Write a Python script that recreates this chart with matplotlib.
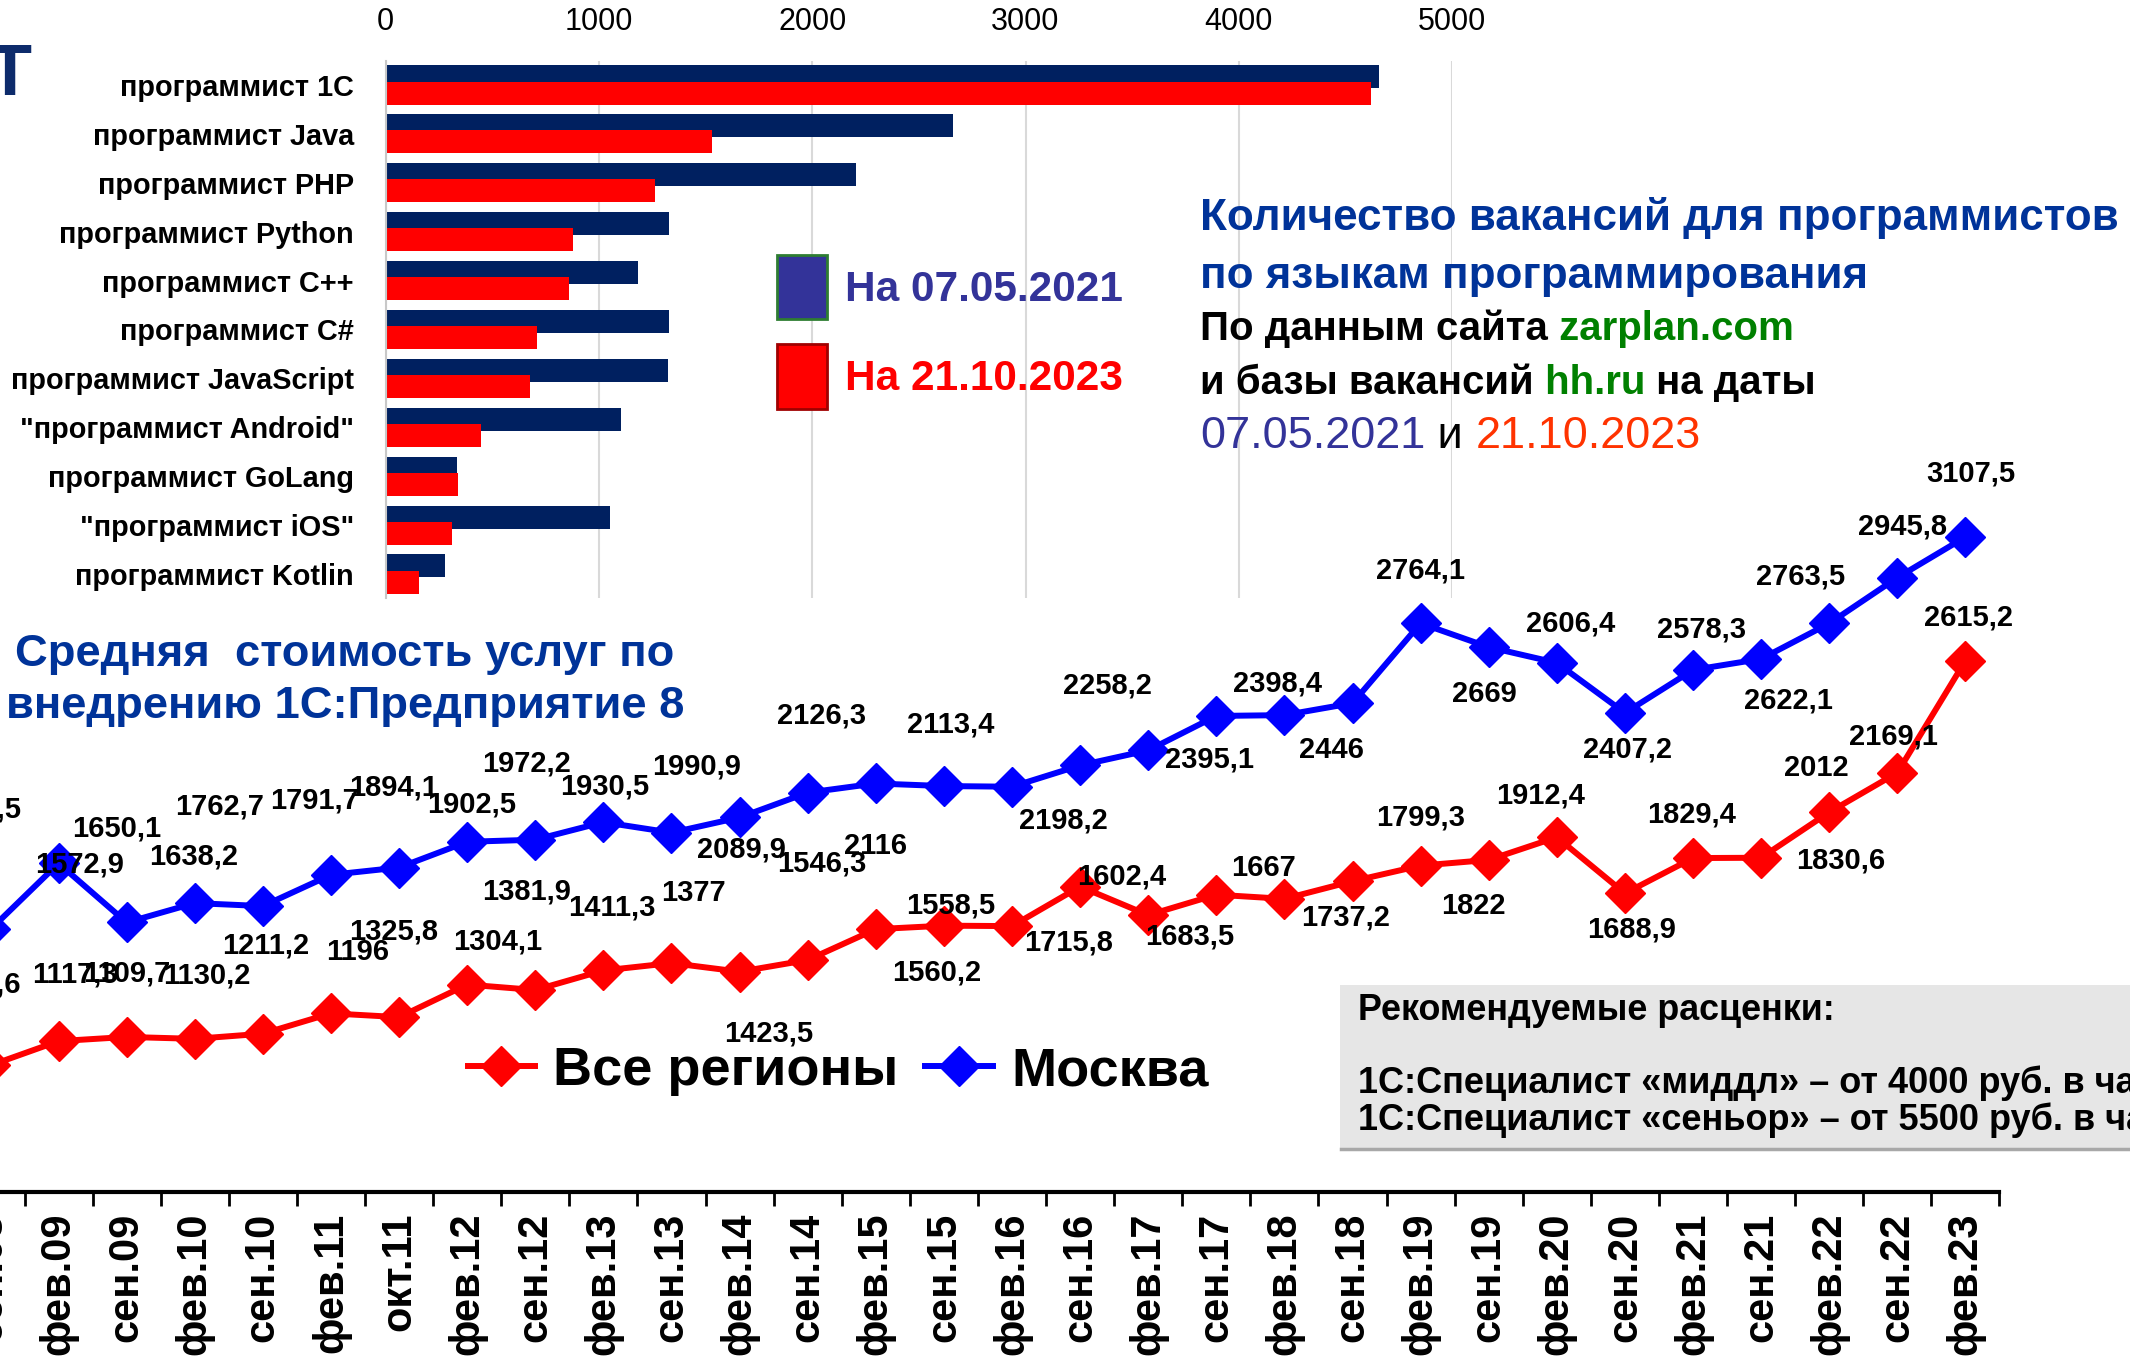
import numpy as np
import matplotlib
matplotlib.use('Agg')
import matplotlib.pyplot as plt
from matplotlib.patches import Rectangle, Patch
from matplotlib.ticker import FixedLocator

# ---------------- данные: вакансии ----------------
languages = ['программист 1C', 'программист Java', 'программист PHP', 'программист Python',
             'программист C++', 'программист C#', 'программист JavaScript',
             '"программист Android"', 'программист GoLang', '"программист iOS"',
             'программист Kotlin']
vac_2021 = [4656, 2660, 2205, 1326, 1181, 1326, 1322, 1103, 333, 1053, 277]
vac_2023 = [4622, 1530, 1262, 877, 861, 709, 678, 448, 340, 310, 155]
vac_labels = ['На 07.05.2021', 'На 21.10.2023']

# ---------------- данные: стоимость услуг ----------------
periods = ['сен.08', 'фев.09', 'сен.09', 'фев.10', 'сен.10', 'фев.11', 'окт.11', 'фев.12',
           'сен.12', 'фев.13', 'сен.13', 'фев.14', 'сен.14', 'фев.15', 'сен.15', 'фев.16',
           'сен.16', 'фев.17', 'сен.17', 'фев.18', 'сен.18', 'фев.19', 'сен.19', 'фев.20',
           'сен.20', 'фев.21', 'сен.21', 'фев.22', 'сен.22', 'фев.23']
moscow = [1545.0, 1808.5, 1572.9, 1650.1, 1638.2, 1762.7, 1791.7, 1894.1, 1902.5, 1972.2,
          1930.5, 1990.9, 2089.9, 2126.3, 2116, 2113.4, 2198.2, 2258.2, 2395.1, 2398.4,
          2446, 2764.1, 2669, 2606.4, 2407.2, 2578.3, 2622.1, 2763.5, 2945.8, 3107.5]
regions = [1004.0, 1100.6, 1117.3, 1109.7, 1130.2, 1211.2, 1196, 1325.8, 1304.1, 1381.9,
           1411.3, 1377, 1423.5, 1546.3, 1560.2, 1558.5, 1715.8, 1602.4, 1683.5, 1667,
           1737.2, 1799.3, 1822, 1912.4, 1688.9, 1829.4, 1830.6, 2012, 2169.1, 2615.2]
line_labels = ['Все регионы', 'Москва']

# смещения подписей значений (в пунктах) - как они разложены на исходнике
blue_off = [(-45, 45), (-59, 39), (-34, 42), (-56, 54), (-50, 36), (-80, 49), (-61, 48),
            (-53, 39), (-46, 25), (-55, 42), (-48, 33), (-31, 37), (-48, -41), (-39, 49),
            (-49, -43), (-44, 45), (-12, -40), (-29, 47), (-5, -31), (-5, 23), (-15, -34),
            (0, 38), (-3, -34), (10, 28), (2, -26), (6, 29), (20, -30), (-21, 34), (4, 37),
            (4, 46)]
red_off = [(-45, 45), (-59, 41), (-37, 45), (-49, 47), (-40, 42), (-47, 49), (-30, 47),
           (-53, 38), (-27, 35), (-55, 57), (-43, 40), (-33, 57), (-28, -53), (-39, 47),
           (-5, -34), (-44, 15), (-8, -40), (-19, 28), (-19, -30), (-15, 22), (-5, -26),
           (0, 35), (-11, -33), (-12, 30), (5, -26), (-1, 31), (57, -2), (-9, 32), (-3, 26),
           (2, 31)]

plt.rcParams['font.family'] = ['Liberation Sans', 'DejaVu Sans']

W, H = 2130, 1361
fig = plt.figure(figsize=(W / 100, H / 100), dpi=100)


def box(l, t, r, b):
    """пиксели картинки (сверху вниз) -> доли фигуры"""
    return [l / W, 1 - b / H, (r - l) / W, (b - t) / H]


def fx(x):
    return x / W


def fy(y):
    return 1 - y / H


# ---------------- верхняя диаграмма ----------------
axb = fig.add_axes(box(385.8, 60.5, 1452, 598.5))
yy = np.arange(len(languages))
axb.barh(yy - 0.165, vac_2021, height=0.47, color='#002060')
axb.barh(yy + 0.165, vac_2023, height=0.47, color='#FF0000')
axb.set_xlim(0, 5000)
axb.set_ylim(len(languages) - 0.5, -0.5)
axb.xaxis.tick_top()
axb.set_xticks(range(0, 5001, 1000))
axb.tick_params(axis='x', length=0, pad=17, labelsize=22)
axb.set_yticks(yy, languages)
axb.tick_params(axis='y', length=0, pad=23, labelsize=20.8)
for lbl in axb.get_yticklabels():
    lbl.set_fontweight('bold')
axb.grid(axis='x', color='#D9D9D9', lw=1.5)
axb.set_axisbelow(True)
for s in ['top', 'right', 'bottom']:
    axb.spines[s].set_visible(False)
axb.spines['left'].set_color('#C8C8C8')
axb.spines['left'].set_linewidth(1.5)

leg_b = axb.legend(handles=[Patch(facecolor='#333399', edgecolor='#2E7D32', lw=2),
                            Patch(facecolor='#FF0000', edgecolor='#A00000', lw=2)],
                   labels=vac_labels, loc='upper left',
                   bbox_to_anchor=(fx(777), fy(255)), bbox_transform=fig.transFigure,
                   frameon=False, prop=dict(weight='bold', size=30.5),
                   handlelength=1.18, handleheight=1.95, handletextpad=0.42,
                   labelspacing=0.6, borderpad=0, borderaxespad=0)
leg_b.get_texts()[0].set_color('#333399')
leg_b.get_texts()[1].set_color('#FF0000')

# кусочек логотипа слева вверху
fig.text(fx(9), fy(95), 'Т', ha='center', va='baseline', size=52, weight='bold',
         color='#0D2B6B')


def line(x, y, pieces, **kw):
    """одна строка из кусков разного цвета"""
    prev = fig.text(x, y, pieces[0][0], color=pieces[0][1], va='baseline', **kw)
    for txt, col in pieces[1:]:
        prev = axb.annotate(txt, xy=(1, 0), xycoords=prev, va='bottom', ha='left',
                            color=col, annotation_clip=False, **kw)


blue_t = '#003399'
line(fx(1200), fy(230), [('Количество вакансий для программистов', blue_t)],
     size=31.7, weight='bold')
line(fx(1200), fy(288), [('по языкам программирования', blue_t)], size=31.7, weight='bold')
line(fx(1200), fy(340), [('По данным сайта', 'black'), (' zarplan.com', '#008000')],
     size=29, weight='bold')
line(fx(1200), fy(394), [('и базы вакансий', 'black'), (' hh.ru', '#008000'),
                         (' на даты', 'black')], size=29, weight='bold')
line(fx(1200), fy(448), [('07.05.2021', '#333399'), (' и ', 'black'),
                         ('21.10.2023', '#FF3300')], size=32.5)

# ---------------- нижняя диаграмма ----------------
axl = fig.add_axes(box(-43.6, 438.4, 1999.5, 1192))
axl.patch.set_visible(False)
xx = np.arange(len(periods))
axl.plot(xx, regions, color='#FF0000', lw=4.3, marker='D', ms=20, mew=1,
         label=line_labels[0])
axl.plot(xx, moscow, color='#0000FF', lw=4.3, marker='D', ms=20, mew=1,
         label=line_labels[1])
axl.set_xlim(-0.5, len(periods) - 0.5)
axl.set_ylim(500, 3500)
axl.set_yticks([])
axl.set_xticks(xx, periods, rotation=90, fontsize=30, fontweight='bold')
axl.xaxis.set_minor_locator(FixedLocator(np.arange(-0.5, len(periods))))
axl.tick_params(axis='x', which='major', length=0, pad=15)
axl.tick_params(axis='x', which='minor', length=10, width=2)
for s in ['top', 'right', 'left']:
    axl.spines[s].set_visible(False)
axl.spines['bottom'].set_linewidth(3)


def fmt(v):
    return f'{v:g}'.replace('.', ',')


for i in range(len(periods)):
    axl.annotate(fmt(moscow[i]), (xx[i], moscow[i]), xytext=blue_off[i],
                 textcoords='offset points', ha='center', va='center',
                 fontsize=21, fontweight='bold', annotation_clip=False)
    axl.annotate(fmt(regions[i]), (xx[i], regions[i]), xytext=red_off[i],
                 textcoords='offset points', ha='center', va='center',
                 fontsize=21, fontweight='bold', annotation_clip=False)

axl.legend(loc='center', bbox_to_anchor=(fx(838), fy(1071)), bbox_transform=fig.transFigure,
           ncol=2, frameon=False, prop=dict(weight='bold', size=39), handlelength=1.25,
           handletextpad=0.33, columnspacing=0.5, borderpad=0)

fig.text(fx(345), fy(666), 'Средняя  стоимость услуг по', ha='center', va='baseline',
         size=32.7, weight='bold', color=blue_t)
fig.text(fx(345), fy(718), 'внедрению 1С:Предприятие 8', ha='center', va='baseline',
         size=32.7, weight='bold', color=blue_t)

# плашка с расценками
fig.add_artist(Rectangle((fx(1340), fy(1150)), fx(800), (1150 - 985) / H,
                         transform=fig.transFigure, facecolor='#E6E6E6', edgecolor='none'))
fig.add_artist(plt.Line2D([fx(1341), 1], [fy(1149), fy(1149)], transform=fig.transFigure,
                          color='#A8A8A8', lw=2.5))
fig.text(fx(1358), fy(1020), 'Рекомендуемые расценки:', size=25.8, weight='bold')
fig.text(fx(1358), fy(1093), '1С:Специалист «миддл» – от 4000 руб. в час', size=26,
         weight='bold')
fig.text(fx(1358), fy(1130), '1С:Специалист «сеньор» – от 5500 руб. в час', size=26,
         weight='bold')

fig.savefig('out.png', dpi=100)
